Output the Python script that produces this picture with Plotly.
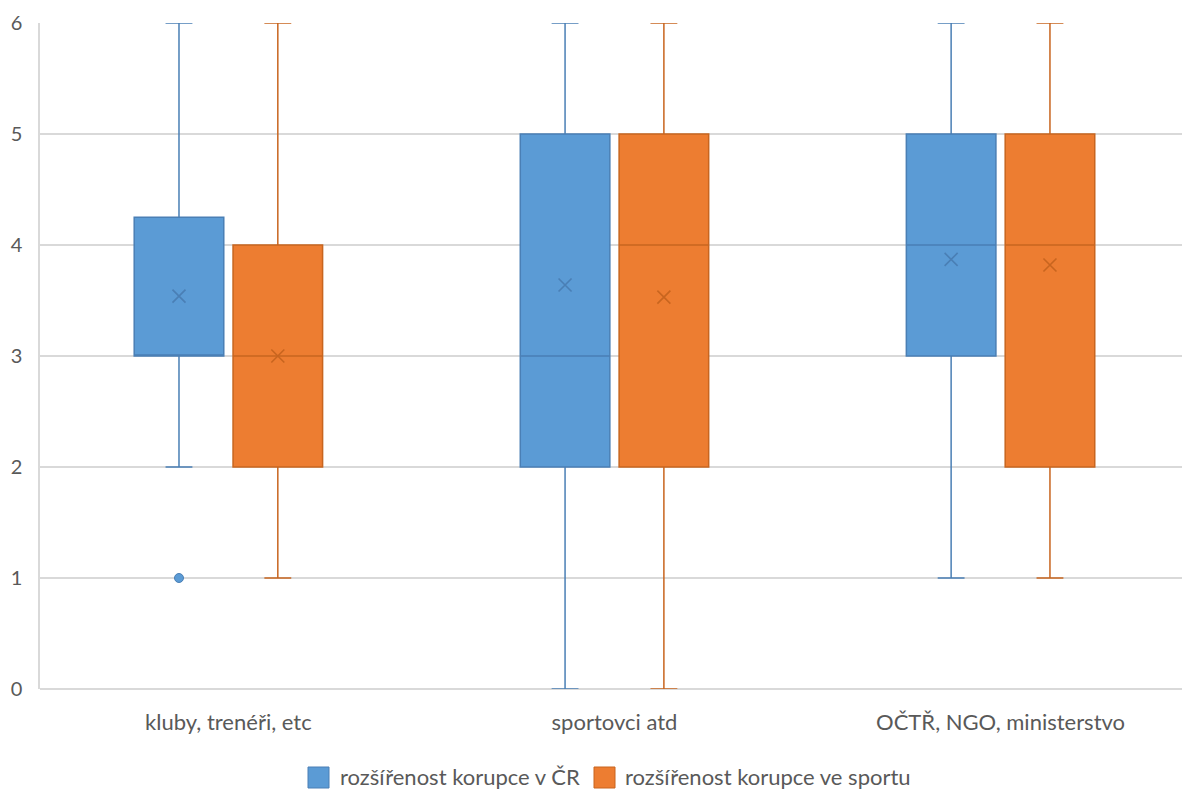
import plotly.graph_objects as go

# Categories and per-series box statistics
categories = ["kluby, trenéři, etc", "sportovci atd", "OČTŘ, NGO, ministerstvo"]

cr_q1 = [3, 2, 3]
cr_median = [3, 3, 4]
cr_q3 = [4.25, 5, 5]
cr_low = [2, 0, 1]
cr_high = [6, 6, 6]
cr_mean = [3.54, 3.64, 3.87]
cr_outliers = [[1], [], []]

sp_q1 = [2, 2, 2]
sp_median = [3, 4, 4]
sp_q3 = [4, 5, 5]
sp_low = [1, 0, 1]
sp_high = [6, 6, 6]
sp_mean = [3.0, 3.53, 3.82]
sp_outliers = [[], [], []]

series = [
    dict(name="rozšířenost korupce v ČR", q1=cr_q1, med=cr_median, q3=cr_q3,
         lo=cr_low, hi=cr_high, mean=cr_mean, out=cr_outliers,
         fill="#5B9BD5", line="#4A7FB5", offset=-0.128),
    dict(name="rozšířenost korupce ve sportu", q1=sp_q1, med=sp_median, q3=sp_q3,
         lo=sp_low, hi=sp_high, mean=sp_mean, out=sp_outliers,
         fill="#ED7D31", line="#C8651F", offset=0.128),
]

FONT = "Lato, 'Open Sans', sans-serif"
TXT = "#595959"
BOX_W = 0.232
W, H = 1182, 793
ML, MR, MT, MB = 40, 0, 23, 104

fig = go.Figure()
idx = list(range(len(categories)))
for s in series:
    xs = [i + s["offset"] for i in idx]
    fig.add_trace(go.Box(
        name=s["name"], x=xs, q1=s["q1"], median=s["med"], q3=s["q3"],
        lowerfence=s["lo"], upperfence=s["hi"],
        fillcolor=s["fill"], line=dict(color=s["line"], width=1.5),
        width=BOX_W, whiskerwidth=0.3, boxpoints=False,
        hoverinfo="skip",
    ))
    # mean markers
    fig.add_trace(go.Scatter(
        x=xs, y=s["mean"], mode="markers",
        marker=dict(symbol="x-thin", size=13, line=dict(color=s["line"], width=1.6)),
        hoverinfo="skip",
    ))
    # outlier points
    ox, oy = [], []
    for i, pts in zip(xs, s["out"]):
        for p in pts:
            ox.append(i)
            oy.append(p)
    if ox:
        fig.add_trace(go.Scatter(
            x=ox, y=oy, mode="markers",
            marker=dict(symbol="circle", size=9, color=s["fill"],
                        line=dict(color=s["line"], width=1)),
            hoverinfo="skip",
        ))

# Legend drawn below the plot: square swatch + label per series
pw = W - ML - MR
ph = H - MT - MB


def px_x(p):
    return (p - ML) / pw


def px_y(p):
    return (H - MB - p) / ph


legend_items = [(308, 338), (594, 623)]
for s, (sx, tx) in zip(series, legend_items):
    fig.add_shape(type="rect", xref="paper", yref="paper",
                  x0=px_x(sx), x1=px_x(sx + 21), y0=px_y(788), y1=px_y(767),
                  fillcolor=s["fill"], line=dict(color=s["line"], width=1))
    fig.add_annotation(xref="paper", yref="paper", x=px_x(tx), y=px_y(777),
                       xanchor="left", yanchor="middle", showarrow=False,
                       text=s["name"], font=dict(size=22, color=TXT, family=FONT))

fig.update_layout(
    width=W, height=H,
    margin=dict(l=ML, r=MR, t=MT, b=MB),
    paper_bgcolor="white", plot_bgcolor="white",
    font=dict(family=FONT, color=TXT, size=22),
    showlegend=False,
    xaxis=dict(range=[-0.488, 2.470], tickvals=idx, ticktext=categories,
               showgrid=False, zeroline=False, showline=False, ticks="",
               automargin=False,
               tickfont=dict(size=22, color=TXT), ticklabelstandoff=18),
    yaxis=dict(range=[0, 6], dtick=1, showgrid=True, gridcolor="#D9D9D9", gridwidth=1.5,
               zeroline=True, zerolinecolor="#D9D9D9", zerolinewidth=1.5,
               showline=True, linecolor="#D9D9D9", linewidth=1.5,
               ticks="", automargin=False,
               tickfont=dict(size=20, color=TXT), ticklabelstandoff=12),
)

fig.write_html("out.html")
